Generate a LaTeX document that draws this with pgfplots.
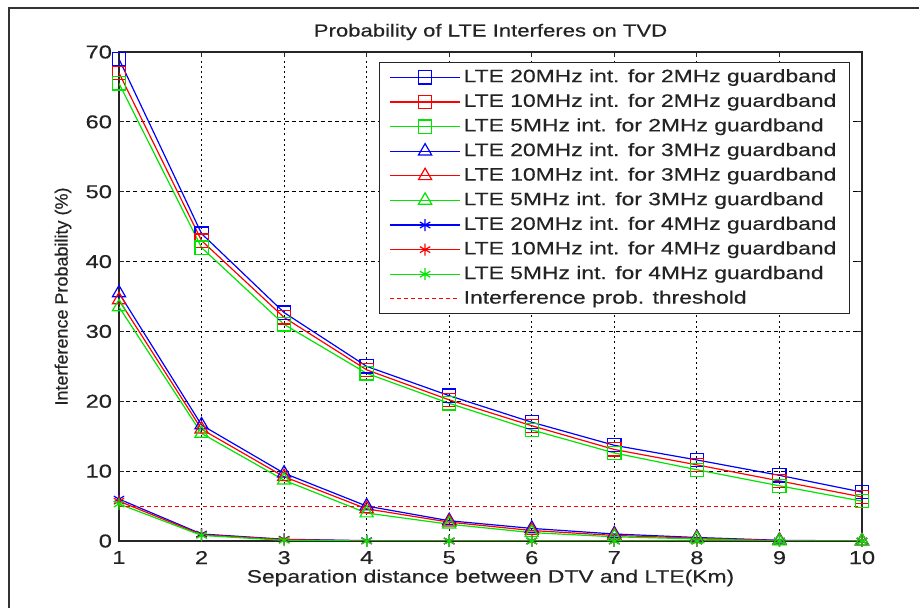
\documentclass[border=0pt]{standalone}
\usepackage{pgfplots}
\pgfplotsset{compat=1.18}
\usepackage{fontspec}
\setmainfont{Liberation Sans}[FakeStretch=1.27, FakeBold=0.35]
\newfontfamily\ylabfont{Liberation Sans}[FakeBold=0.35]
\definecolor{mblue}{RGB}{0,0,255}
\definecolor{mred}{RGB}{255,0,0}
\definecolor{mgreen}{RGB}{0,230,0}
\definecolor{txt}{RGB}{35,35,35}
\begin{document}
\begin{tikzpicture}
\useasboundingbox (0,0) rectangle (459.5pt,304pt);
\fill[white] (0,0) rectangle (459.5pt,304pt);
\draw[line width=0.8pt, black!80] (4.5pt,0) -- (4.5pt,300pt) -- (459.5pt,300pt);
\begin{axis}[
  at={(59.5pt,33.5pt)}, anchor=south west,
  scale only axis, width=371.5pt, height=244.5pt,
  xmin=1, xmax=10, ymin=0, ymax=70,
  xtick={1,2,...,10}, ytick={0,10,...,70},
  tick align=inside, major tick length=2.5pt,
  grid=major,
  x grid style={black, line width=0.45pt, dash pattern=on 1pt off 1.6pt},
  y grid style={black, line width=0.45pt, dash pattern=on 2pt off 1.6pt},
  axis line style={black!85, line width=0.6pt},
  tick style={black!85, line width=0.5pt},
  ticklabel style={font=\fontsize{9.3}{10}\selectfont, text=txt},
  xticklabel style={yshift=-1.5pt},
  /pgf/number format/assume math mode=true,
  title={Probability of LTE Interferes on TVD},
  title style={at={(axis description cs:0.5,1)}, anchor=center, yshift=4pt, font=\fontsize{8.7}{10}\selectfont, text=txt},
  xlabel={Separation distance between DTV and LTE(Km)},
  xlabel style={at={(axis description cs:0.5,0)}, anchor=center, yshift=-18.5pt, font=\fontsize{9}{10}\selectfont, text=txt},
  ylabel={\ylabfont Interference Probability (\%)},
  ylabel style={at={(axis description cs:0,0.5)}, anchor=center, yshift=28pt, font=\fontsize{9}{10}\selectfont, text=txt},
  legend cell align=left,
  legend style={at={(1,1)}, anchor=north east, xshift=-6pt, yshift=-5pt,
    draw=black!85, line width=0.6pt, fill=white,
    inner xsep=5pt, inner ysep=1.5pt, row sep=0.5pt,
    nodes={inner sep=1.5pt, text height=6.8pt, text depth=2pt},
    font=\fontsize{9}{10}\selectfont, text=txt},
  legend image code/.code={\draw[#1, mark repeat=2, mark phase=2] plot coordinates {(0pt,0pt) (17.5pt,0pt) (35pt,0pt)};},
  every axis plot/.append style={line width=0.6pt, mark options={solid}},
]
% 2 MHz guardband (squares)
\addplot[mblue, mark=square, mark size=3.3pt] coordinates {(1,69) (2,44) (3,32.7) (4,25) (5,20.8) (6,17.0) (7,13.7) (8,11.6) (9,9.4) (10,7.0)};
\addlegendentry{LTE 20MHz int. for 2MHz guardband}
\addplot[mred, mark=square, mark size=3.3pt] coordinates {(1,67) (2,43) (3,32) (4,24.5) (5,20.2) (6,16.5) (7,13.1) (8,10.9) (9,8.6) (10,6.3)};
\addlegendentry{LTE 10MHz int. for 2MHz guardband}
\addplot[mgreen, mark=square, mark size=3.3pt] coordinates {(1,65.5) (2,42) (3,31) (4,24) (5,19.7) (6,15.9) (7,12.6) (8,10.2) (9,7.9) (10,5.7)};
\addlegendentry{LTE 5MHz int. for 2MHz guardband}
% 3 MHz guardband (triangles)
\addplot[mblue, mark=triangle, mark size=3.8pt] coordinates {(1,35.5) (2,16.6) (3,9.7) (4,5.0) (5,2.9) (6,1.8) (7,1.0) (8,0.5) (9,0.1) (10,0)};
\addlegendentry{LTE 20MHz int. for 3MHz guardband}
\addplot[mred, mark=triangle, mark size=3.8pt] coordinates {(1,34.5) (2,16.0) (3,9.2) (4,4.6) (5,2.7) (6,1.5) (7,0.8) (8,0.4) (9,0.05) (10,0)};
\addlegendentry{LTE 10MHz int. for 3MHz guardband}
\addplot[mgreen, mark=triangle, mark size=3.8pt] coordinates {(1,33.5) (2,15.4) (3,8.7) (4,4.0) (5,2.4) (6,1.2) (7,0.6) (8,0.3) (9,0) (10,0)};
\addlegendentry{LTE 5MHz int. for 3MHz guardband}
% 4 MHz guardband (asterisks)
\addplot[mblue, mark=asterisk, mark size=3pt] coordinates {(1,6.0) (2,1.0) (3,0.25) (4,0.05) (5,0) (6,0) (7,0) (8,0) (9,0) (10,0)};
\addlegendentry{LTE 20MHz int. for 4MHz guardband}
\addplot[mred, mark=asterisk, mark size=3pt] coordinates {(1,5.7) (2,0.9) (3,0.2) (4,0) (5,0) (6,0) (7,0) (8,0) (9,0) (10,0)};
\addlegendentry{LTE 10MHz int. for 4MHz guardband}
\addplot[mgreen, mark=asterisk, mark size=3pt] coordinates {(1,5.3) (2,0.8) (3,0.1) (4,0) (5,0) (6,0) (7,0) (8,0) (9,0) (10,0)};
\addlegendentry{LTE 5MHz int. for 4MHz guardband}
% threshold
\addplot[mred, line width=0.5pt, dash pattern=on 2pt off 1.5pt] coordinates {(1,5) (10,5)};
\addlegendentry{Interference prob. threshold}
\end{axis}
\end{tikzpicture}
\end{document}
